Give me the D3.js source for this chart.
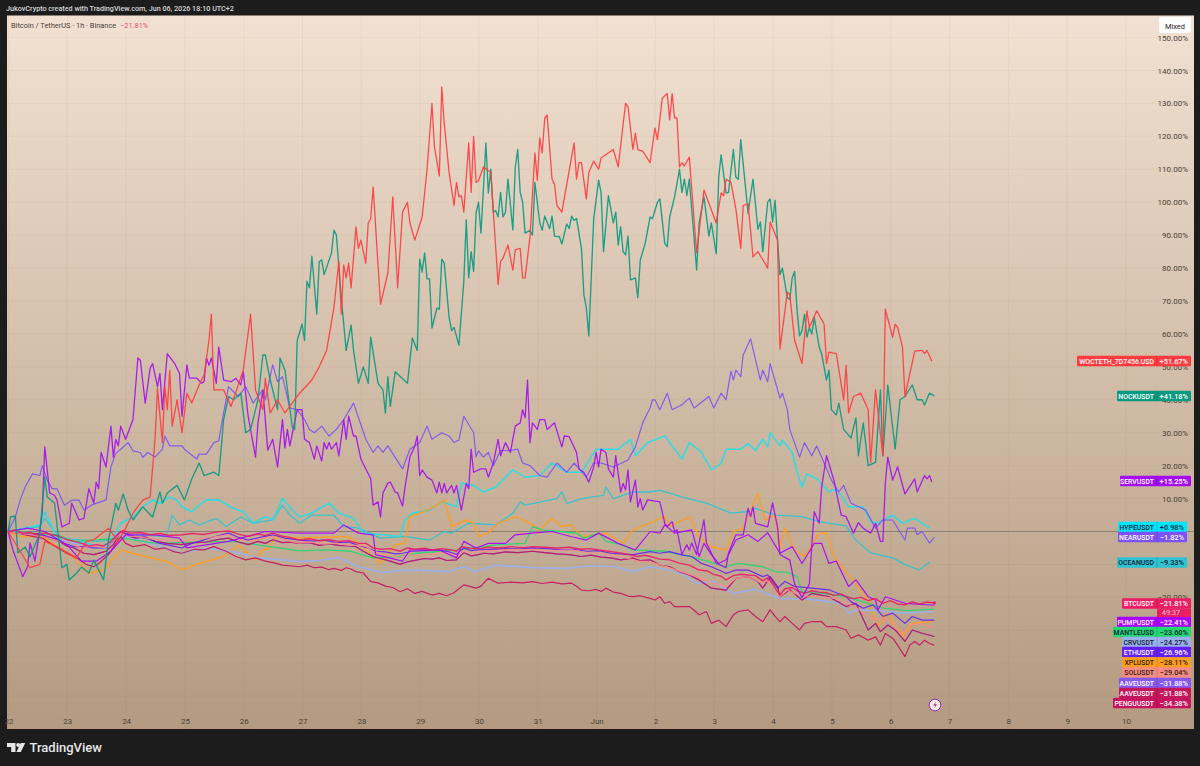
<!DOCTYPE html>
<html><head><meta charset="utf-8">
<script src="https://cdn.jsdelivr.net/npm/d3@7/dist/d3.min.js"></script>
<style>html,body{margin:0;padding:0;background:#1c1c1d;overflow:hidden}svg{display:block}text{font-family:Roboto,"Noto Sans",sans-serif}</style>
</head><body><svg id="c" width="1200" height="766"></svg>
<script>
const yTicks=[150,140,130,120,110,100,90,80,70,60,50,40,30,20,10,-20];
const gridTicks=[150,140,130,120,110,100,90,80,70,60,50,40,30,20,10,0,-10,-20,-30,-40,-50];
const dayLabels=["22","23","24","25","26","27","28","29","30","31","Jun","2","3","4","5","6","7","8","9","10"];
const wocteth=[[0,0],[5,-6],[9,-11],[13,-10],[15,-3],[21,-5],[28,-8],[32,-3],[35,-2.5],[41,1],[45,-3],[48,1],[51,5.6],[55,9.5],[58,10.5],[60,28],[61,43.5],[63,27],[64,44],[65,37],[66,49],[67,32],[69,40],[71,30],[73,42],[75,39],[78,44.5],[80,47.5],[82,58],[83,66],[84,43],[88,43],[91,38],[96,49],[99,66],[101,43],[104,37],[105,46.5],[107,36],[110,40],[113,36],[119,42],[124,46],[127,50],[130,55],[133,68],[135,82],[136,66],[137,81],[138,77],[139,81.5],[140,74],[142,92.5],[143,86],[144,88.5],[146,81.5],[147,93.7],[148,95],[149,104.6],[152,69],[155,78.5],[157,101.6],[159,74],[161,97],[163,100],[164,93.7],[166,88.5],[169,95.5],[171,110],[173,130],[174,117],[176,108],[177,135],[178,124],[180,109],[182,99],[183,106],[184,101.6],[185,102],[186,97],[188,118],[189,103],[190,120],[191,106],[192,106.5],[194,110.7],[197,109],[200,75],[201,82],[202,83],[204,87],[206,79.4],[207,85.5],[209,86],[210,77],[211,77],[213,89.4],[215,115],[216,106.7],[217,119.5],[218,115],[219,125.5],[220,126.5],[222,107],[223,105.5],[224,99],[226,97],[231,118],[232,107],[233,112],[234,112],[236,101],[237,109],[239,112.5],[241,110],[242,113.4],[247,116],[249,110.7],[252,130],[253,129],[255,116],[256,121],[257,116],[259,115.5],[262,112],[264,122.5],[265,119],[267,131.6],[269,133],[270,125],[271,133],[272,125.6],[273,125.6],[274,110.7],[275,112],[276,111],[278,113.7],[281,84.6],[284,103.7],[289,93.7],[291,102.8],[292,102],[293,107],[295,106],[297,98],[299,86],[300,99],[302,99.5],[304,83.4],[306,85],[310,80],[311,94],[314,88.5],[315,55.4],[318,72.7],[319,72],[321,58],[324,51],[326,67],[327,62],[330,67],[333,63],[334,51],[335,54.5],[338,54],[341,40],[342,50.5],[343,36],[345,41],[348,42],[351,37],[352,21],[354,43],[357,23],[358,67.5],[361,59],[362,63],[363,62],[365,56],[366,41],[370,54.8],[373,55],[374,54],[375,55],[377,51.7]];
const nock=[[0,0],[1,4.4],[3,4.7],[4,-6.5],[7,-4.7],[9,-7.7],[13,-0.5],[15,16.5],[16,10.5],[19,8.6],[22,-11],[24,-10],[25,-14.7],[28,-12.6],[30,-10.8],[33,-12.6],[35,-8.7],[39,-14.7],[41,-2.6],[44,8.6],[45,6.5],[47,11.4],[49,6.5],[51,3.5],[55,7.5],[59,4.4],[62,12],[63,8.6],[65,11.7],[69,14],[72,9.6],[75,16],[78,20.8],[80,17],[84,18],[86,17],[87,25.4],[88,34],[90,41],[92,40],[95,42],[97,30],[99,31],[102,40],[104,53.6],[105,53.6],[107,46],[110,37],[111,52.7],[113,49],[116,31.7],[117,31],[118,58],[120,63],[121,58],[122,76],[123,74],[124,83.6],[126,66],[127,82],[128,82.5],[129,78],[132,84.6],[133,91.5],[134,90],[136,71],[138,55],[140,62.7],[141,55],[143,45],[145,50],[147,45],[148,59],[151,45],[153,43],[154,36],[155,47],[156,38],[158,48.5],[163,45],[165,58.8],[167,55],[168,82.7],[169,78.8],[170,84.6],[171,76.7],[172,76.7],[173,61.8],[175,67.8],[176,67.5],[177,82.7],[178,81.5],[180,65],[181,61],[182,62],[184,56.6],[186,76],[187,94.6],[188,77],[189,85],[190,79],[191,96.7],[192,100],[193,90.6],[195,118],[196,102.8],[197,110],[198,97],[199,97.5],[200,95.5],[201,103],[202,95.5],[203,97],[204,107],[206,91.6],[207,110.7],[208,116],[209,103],[210,100],[211,90.6],[213,91.5],[214,90],[215,106],[217,93.7],[218,91.5],[219,95.8],[221,92],[222,95.8],[223,89.7],[225,89.5],[226,87.3],[228,93.4],[229,92],[230,95.8],[231,94.5],[232,95],[234,86],[235,71.8],[236,68],[237,59.4],[239,95],[241,106.7],[242,103],[243,85],[245,102],[247,93.7],[248,97],[249,87],[250,92.5],[251,85],[252,84],[253,89.7],[254,76.4],[256,77],[257,71],[258,82.4],[260,87.5],[262,95.5],[263,95],[265,100],[266,101],[268,87.5],[269,86.5],[270,95.5],[272,101.6],[274,110],[275,103],[276,107],[277,102],[278,107],[281,79.4],[282,93.7],[284,101.6],[286,89.7],[287,93.7],[289,84.3],[290,107.6],[291,114.4],[293,102.8],[294,103],[296,116],[297,107.6],[298,107],[299,119],[302,96.7],[304,107],[306,91.8],[307,94],[308,85],[310,100],[311,101],[312,94],[313,100.6],[314,88.5],[315,78],[316,80],[318,71],[319,70.5],[320,77],[321,79],[322,67],[323,59.4],[324,61],[325,66],[326,59],[327,62],[328,60],[329,65],[331,56],[332,54],[334,46],[335,49],[336,37],[338,35.4],[339,39],[341,31],[344,28.4],[346,34.5],[347,23],[349,33],[351,20],[354,21],[356,43],[357,23],[359,44.5],[362,25],[364,40],[366,41],[369,44.5],[371,40],[373,40],[374,38.4],[376,42],[378,41.2]];
const serv=[[0,0],[2,-5.6],[4,-9.6],[6,-13.7],[8,-10.7],[9,-3.5],[11,-9],[13,0.5],[14,6],[15,25.7],[17,11.7],[19,11],[20,9.5],[22,1.4],[25,2.5],[26,8.6],[29,3.5],[31,4],[33,13],[35,8.6],[36,15],[37,13],[38,24],[40,19.6],[42,32],[43,22.6],[44,28],[45,26],[46,32],[48,28],[51,34],[53,52.7],[54,52],[56,39],[58,49.6],[59,51],[61,44],[62,48],[63,37],[65,54],[68,51],[70,48],[71,35],[73,50.6],[74,46.6],[77,46.6],[79,45],[80,45.5],[81,52.7],[82,50.5],[83,52.7],[85,45],[86,56],[88,46],[91,45.5],[93,46.5],[95,44.5],[96,48.5],[98,35],[101,22.6],[102,33],[104,43],[106,24.7],[108,28],[110,19.6],[112,34],[113,25.4],[114,31],[115,26],[118,37],[120,37],[121,28],[123,27],[125,22],[126,26],[128,21.4],[129,27],[130,25],[131,27],[132,25],[134,27],[135,23],[137,34],[138,28],[139,35],[141,29],[142,29],[144,22],[148,16],[149,8],[151,9],[152,4.4],[153,11.7],[155,14.7],[156,15],[158,12],[159,11.7],[161,7.7],[162,13.5],[164,22.6],[166,26],[167,29],[168,17],[169,18.7],[171,16.5],[173,15.6],[175,11.7],[176,15],[177,11.7],[178,14.6],[179,11.7],[181,14],[182,11.7],[183,14],[185,6.5],[187,14.6],[188,13],[189,25],[190,18],[193,19],[195,19],[196,16.5],[198,20.7],[200,28],[201,23],[203,27],[205,24],[207,32],[209,33],[210,37],[211,34.5],[212,46],[213,27],[214,33],[216,31],[217,34],[219,34],[220,31],[223,33],[226,25.7],[227,29],[229,28.8],[232,24],[233,19],[235,18],[237,15],[239,19.6],[240,24],[241,19.6],[242,25],[244,24],[245,19],[247,16.5],[248,23],[250,12],[251,14.6],[252,12.6],[253,18.7],[254,9],[256,15.6],[257,7.4],[258,10],[259,6.5],[261,9.6],[266,9],[268,2.5],[269,1.5],[271,3],[272,0],[273,0.5],[275,-7],[277,-4],[278,-5.6],[279,-3.5],[281,-7],[284,3.5],[285,-3.5],[289,-9.6],[293,-11],[294,-6.6],[297,-1],[300,-1],[302,7],[303,4.5],[304,7.5],[305,2.5],[310,1.4],[312,8.7],[314,1.4],[315,-7],[319,-8.7],[321,-16],[324,-20],[327,-16],[328,-4],[329,6],[331,2.5],[332,13.5],[334,23],[337,15.6],[340,5],[342,4.5],[345,-0.5],[347,2.7],[349,1],[352,-0.5],[354,2.5],[356,-3],[357,-3],[358,14.7],[359,22.6],[361,15.6],[363,19.6],[366,11.4],[370,16],[371,12],[374,17],[375,16],[376,17],[377,15]];
const near=[[0,0],[3,4.4],[5,9.6],[7,13.5],[10,17.5],[13,17],[14,20],[16,15.6],[18,13],[20,13],[23,8],[26,9.5],[29,9.5],[31,6.5],[34,8],[40,9.6],[42,19.6],[44,23.8],[46,25],[49,27],[51,24.5],[54,24],[55,22.5],[57,24],[60,22.6],[63,25],[64,29],[66,26],[71,26],[72,25],[77,22],[78,23.5],[81,23.5],[84,27],[86,27.5],[88,36],[90,44],[94,41],[97,44],[100,39],[104,43],[105,40],[108,50.6],[110,45.5],[112,47],[115,37.5],[118,37],[121,34],[123,31],[125,30],[128,32],[131,29],[134,31],[137,34],[141,39],[146,28],[149,24],[151,26],[153,24],[155,26],[161,19],[164,25],[168,27],[171,32],[173,28],[177,30],[180,29],[182,27],[184,27.8],[186,35],[190,30],[191,22.6],[192,24.5],[194,22.6],[196,24],[198,20],[201,24.6],[205,24.6],[208,25],[210,20.8],[213,20],[217,17],[220,16.5],[224,20.8],[228,18],[231,20.8],[236,16.5],[239,20.8],[242,20.8],[247,19.6],[253,21.7],[256,25.7],[259,33],[262,37.5],[263,40],[264,40],[266,37],[269,42],[271,37],[275,38.5],[278,40.5],[280,37.5],[286,41],[288,37.5],[291,42],[293,40],[295,48.7],[296,46],[297,49],[299,47],[300,53.6],[303,58.5],[307,46],[308,49],[310,45.5],[311,51],[315,40.5],[316,42],[318,37],[319,31],[323,22.6],[325,27],[328,23],[330,26],[332,22.6],[336,15.6],[339,12],[341,14],[344,8.6],[350,6.5],[354,1],[357,3.5],[361,3.5],[366,-2.6],[367,1],[370,1],[371,-1],[373,0],[376,-3.5],[378,-1.7]];
const hype=[[0,0],[13,2],[15,6],[17,3],[20,-2],[25,-4],[31,-3],[37,-5],[42,-3],[46,2.5],[51,4.4],[55,7.5],[59,9.6],[62,8.5],[66,10.5],[69,9.5],[71,7.5],[75,6],[78,8],[81,9.6],[86,9.6],[92,7],[96,6],[100,2.5],[105,4.5],[108,3.5],[112,10],[116,6.5],[119,4.4],[124,5.6],[131,8.6],[135,5.6],[141,4],[145,-0.5],[153,-1],[160,-1.5],[162,3.5],[165,5.5],[172,6.5],[177,9],[183,7.5],[185,14.7],[190,14],[194,12],[199,13.5],[206,18.7],[211,16.5],[217,17],[222,20.8],[228,18],[234,18],[240,25],[244,25],[249,25],[254,28],[256,23],[261,27],[268,29],[275,22],[278,27],[283,24],[287,18.7],[291,20.7],[293,25],[299,25],[302,26.7],[305,24.6],[308,28],[310,25.7],[311,30],[315,26],[316,27.8],[320,24],[322,18],[324,13.5],[326,17.5],[330,16],[335,12],[338,13],[343,7.5],[349,7.5],[352,3],[355,2.5],[361,5],[365,2.5],[370,4],[372,3],[376,1]];
const ocean=[[0,0],[13,1.5],[15,4],[21,-2],[37,-3],[54,-1],[64,-1.5],[65,-0.5],[67,5],[70,2],[74,3.5],[78,2],[85,4],[89,1.5],[95,4.4],[100,2.5],[108,3.5],[112,8],[115,5],[119,2.5],[124,5],[133,5],[137,1.5],[143,1],[152,-2],[162,-1.5],[172,-2.6],[178,0],[181,-0.5],[188,2.5],[199,2],[206,5.5],[209,9],[211,8],[224,10],[226,12],[228,8.5],[234,10],[243,11],[244,13.5],[247,10],[255,12],[262,12],[266,12.5],[275,10.5],[285,8.6],[295,5.6],[301,6],[305,7],[313,5],[324,4.5],[331,3],[342,1.7],[346,-2.6],[352,-6.5],[361,-8],[366,-10],[372,-11.7],[374,-10.5],[376,-9.3]];
const btc=[[0,0],[3,0.5],[6,-0.5],[9,-0.3],[12,-1],[15,-0.4],[18,-1],[21,-1.5],[24,-2.5],[27,-3],[30,-3.6],[33,-4.4],[36,-4],[39,-4.4],[42,-3],[45,-0.6],[47,0.3],[50,-0.5],[54,-0.3],[58,-1],[62,-0.6],[66,-1.2],[71,-1],[75,-0.6],[80,-0.9],[85,-0.2],[90,0.2],[94,-0.8],[98,-1.5],[102,-0.8],[105,-1.2],[108,-0.5],[112,-1.4],[115,-1.8],[119,-2.6],[123,-2.2],[127,-2.8],[131,-2.5],[135,-3],[139,-2.8],[143,-3.6],[146,-3.6],[149,-5],[152,-5.4],[156,-5.2],[160,-6],[163,-5],[166,-5.4],[170,-5.1],[173,-5.6],[177,-5.2],[181,-5.6],[183,-6],[185,-4.6],[188,-5],[192,-5.2],[196,-4.8],[200,-5],[205,-4.6],[210,-4.9],[214,-4.6],[219,-4.8],[224,-5],[229,-4.8],[234,-5.4],[238,-5.2],[241,-5.6],[245,-6],[249,-6.4],[253,-7],[257,-7.6],[260,-7.2],[262,-7.6],[266,-8.4],[270,-8.6],[274,-9.6],[278,-10.2],[282,-11.7],[285,-11.9],[288,-13],[291,-13.6],[293,-14.7],[296,-13.4],[299,-13],[302,-13.2],[305,-13.4],[308,-15],[310,-14],[312,-16],[315,-19.3],[317,-17.4],[320,-17],[322,-18],[325,-18.8],[328,-18],[331,-18.4],[334,-18.6],[337,-19.4],[340,-19],[342,-19.8],[345,-20.4],[348,-20],[351,-21],[354,-20.4],[357,-21.8],[360,-21],[363,-22],[366,-22.3],[369,-21.4],[372,-22],[375,-21.4],[378,-21.7]];
const pump=[[0,0],[8,1],[15,0],[24,-4],[30,-9],[36,-9],[42,-6],[48,-1],[60,-1],[70,-2],[73,-5],[90,-3],[105,0],[119,-0.5],[126,-0.5],[133,-0.5],[137,2],[143,-0.5],[149,-1],[150,-7],[161,-9],[164,-5.6],[176,-5.6],[183,-8],[186,-3],[191,-5],[196,-3.6],[203,-3.6],[207,-1],[214,-0.5],[222,0],[230,-1.6],[236,-2.6],[241,-0.5],[249,-3.6],[256,-5.6],[262,0],[266,-0.5],[268,2],[272,-0.5],[279,0.5],[282,-7.6],[284,-3.6],[287,-7],[290,-9.7],[293,-8.6],[297,-2.6],[302,-1],[306,-3],[310,-0.4],[315,-6.6],[320,-4.6],[324,-9.7],[329,-3.6],[332,-3.6],[335,-9.7],[338,-9],[343,-16.7],[346,-14.7],[351,-19.8],[354,-20.8],[355,-23.8],[358,-19.8],[366,-21.8],[378,-22.4]];
const mantle=[[0,0],[20,-1],[27,-3],[46,-2],[60,-3.5],[92,-3],[119,-5.9],[130,-5.6],[140,-6],[149,-8],[160,-7.6],[167,-6.6],[183,-5.6],[200,-4],[211,-3.6],[214,1.5],[218,0.5],[225,0],[232,-0.5],[235,-2],[241,-0.5],[244,-3],[250,-4],[255,-5.6],[268,-6],[281,-8.1],[287,-9.4],[293,-10.7],[298,-9.7],[308,-10.7],[313,-12.2],[318,-12.4],[322,-13.7],[324,-18.3],[332,-18.8],[342,-19.8],[350,-21.6],[357,-23.3],[367,-24],[378,-23.6]];
const crv=[[0,0],[10,-0.5],[20,-2.4],[30,-4],[40,-5],[46,-1],[58,-3.6],[71,-6.6],[81,-5],[92,-6.2],[103,-8.1],[112,-8.6],[119,-9.1],[127,-8.8],[135,-8],[143,-10.7],[153,-12.5],[160,-11.8],[166,-11.7],[180,-12.2],[186,-10.7],[191,-12.2],[199,-10.2],[214,-11],[228,-11.2],[238,-10.4],[248,-10.7],[255,-12.2],[262,-10.7],[270,-11.7],[276,-13.2],[281,-15.7],[288,-15.2],[296,-18.8],[305,-17.6],[315,-20.3],[328,-20.6],[340,-21.8],[343,-24.8],[346,-23.8],[355,-24],[365,-24.8],[378,-24.3]];
const eth=[[0,0],[5,-0.4],[10,-1],[15,-1.2],[21,-2.6],[24,-3.8],[27,-4.6],[31,-4.6],[35,-5],[40,-5],[43,-3],[46,0],[49,-0.8],[52,-1.6],[57,-2.2],[62,-3.6],[66,-4.2],[71,-5],[75,-3.6],[78,-3],[84,-1.6],[90,-0.5],[94,-1.8],[98,-2.6],[103,-1.8],[108,-1],[113,-2],[119,-2.6],[124,-2.9],[129,-2.6],[134,-3.4],[139,-3.2],[142,-4],[146,-4.8],[150,-6],[154,-6.2],[158,-6.8],[161,-6.6],[165,-6],[170,-5.8],[176,-5.6],[180,-6.2],[183,-7],[186,-5],[189,-5.8],[191,-5.6],[197,-5.4],[203,-5.2],[209,-5.3],[214,-5],[220,-5.2],[226,-5.6],[231,-5.4],[236,-6],[241,-5.8],[246,-6.6],[250,-6.8],[255,-7],[262,-6.1],[266,-6.6],[270,-6.1],[275,-7.1],[279,-7.6],[283,-9.7],[287,-10.7],[293,-12.7],[297,-11.7],[302,-11.7],[308,-13.7],[310,-13.2],[314,-17.2],[317,-15.2],[321,-16.7],[328,-17.2],[335,-17.7],[342,-19.8],[344,-21.3],[349,-23.3],[353,-22.3],[357,-25.8],[361,-24.8],[366,-27.9],[369,-25.8],[373,-26.9],[378,-26.9]];
const sol=[[0,0],[5,-0.6],[10,-1],[15,-1.6],[21,-3],[25,-3.6],[30,-5],[35,-4.4],[40,-5],[43,-3],[46,-0.5],[49,-1.4],[52,-1.5],[60,-2.4],[71,-3],[80,-2],[90,-1],[94,-2.2],[98,-3],[103,-2.2],[108,-1.5],[113,-2.6],[119,-3.5],[124,-3.2],[129,-3.8],[134,-3.5],[139,-4.2],[143,-4.2],[146,-4.5],[149,-6],[153,-6.8],[157,-7.6],[160,-8],[163,-7],[167,-7.4],[170,-6.8],[173,-7],[177,-6.4],[181,-6.8],[183,-7.6],[185,-6],[189,-6.4],[193,-6],[199,-5.8],[205,-5.4],[214,-5.5],[222,-5.8],[230,-5.6],[236,-6.4],[241,-6.5],[246,-7.2],[251,-7.8],[257,-9],[262,-9.2],[268,-10.5],[274,-12],[280,-13.5],[287,-15.5],[293,-16.7],[297,-14.2],[302,-13.7],[307,-15.5],[310,-15],[313,-17],[315,-19.8],[318,-17.8],[322,-19],[326,-19.6],[332,-19.8],[338,-20.4],[342,-21.8],[346,-23],[351,-25.8],[354,-27],[357,-26],[361,-28],[365,-30.9],[368,-28.4],[372,-28],[375,-28.6],[378,-29]];
const aave=[[0,0],[4,-0.5],[8,-1],[12,-0.6],[16,-1.8],[21,-3],[24,-4.4],[27,-5],[31,-6.6],[35,-7],[38,-6.4],[40,-6],[43,-4],[46,0],[48,-1],[52,-2],[56,-1.6],[60,-3],[65,-3.6],[71,-4],[76,-3.4],[81,-3.2],[86,-2.4],[90,-2],[94,-3.2],[98,-4],[102,-3],[105,-3.6],[108,-2.5],[112,-3.4],[115,-3.2],[119,-3.6],[123,-3.4],[127,-4.2],[131,-3.8],[135,-4.2],[139,-4.4],[142,-4.6],[145,-6],[149,-7.6],[152,-8.2],[156,-9],[160,-10],[163,-9.2],[167,-8.6],[170,-8.2],[173,-8.4],[176,-8],[179,-8.8],[183,-8.6],[186,-6.4],[189,-7.4],[192,-7],[194,-6.6],[198,-6.8],[203,-6.2],[208,-6.4],[214,-6],[219,-6.4],[224,-6.8],[229,-7],[234,-7.6],[238,-7.2],[242,-7.8],[246,-8],[250,-8.6],[255,-8.1],[258,-8.8],[262,-8.6],[266,-10.2],[270,-10.7],[274,-12.2],[278,-13.2],[282,-14.7],[287,-17.2],[293,-17.8],[297,-14.2],[302,-13.7],[306,-15.2],[308,-17.2],[311,-13.7],[314,-16.7],[315,-19.8],[319,-17.7],[324,-20.8],[328,-18.8],[335,-19.8],[342,-22.8],[346,-21.8],[351,-29.9],[354,-27.9],[356,-30.4],[359,-28.4],[362,-29.9],[366,-33.4],[369,-29.9],[373,-30.9],[378,-31.9]];
const pengu=[[0,0],[5,-0.6],[10,-1.5],[14,-2],[19,-4.4],[24,-6.6],[28,-8],[32,-10],[35,-10.7],[37,-9.7],[41,-7],[46,-1.5],[48,-3.6],[51,-4.6],[56,-4],[60,-5.4],[64,-5],[68,-6.2],[71,-6.6],[76,-5.4],[80,-5.6],[84,-4.6],[89,-6],[93,-7.6],[97,-8.6],[101,-8],[105,-9],[109,-9.6],[112,-10.2],[119,-10.7],[122,-10.2],[125,-11],[128,-10.8],[131,-11.6],[133,-11.2],[136,-11.8],[138,-11],[140,-11.4],[142,-12.2],[145,-12.6],[148,-15.2],[151,-15.6],[154,-16.6],[157,-17],[160,-18.3],[163,-17.4],[166,-18.8],[169,-18.2],[173,-19.3],[176,-18.8],[179,-19.5],[182,-18.6],[184,-17.4],[186,-16.2],[188,-16.6],[191,-17.2],[193,-16.6],[196,-14.2],[198,-15],[200,-15.7],[205,-15.4],[210,-15.6],[214,-15.2],[218,-15.8],[222,-15.4],[226,-15.9],[230,-15.7],[232,-16.6],[234,-17.8],[237,-18],[240,-17.6],[242,-18.2],[244,-17.2],[247,-18.4],[250,-18.8],[253,-19.6],[255,-19.8],[258,-19.5],[262,-20.3],[264,-20.8],[266,-19.8],[268,-21.8],[270,-21.3],[272,-22.8],[275,-22.8],[278,-22.8],[279,-23.3],[282,-25.3],[285,-24.3],[287,-27.9],[290,-26.9],[293,-28.9],[296,-25.3],[298,-24.3],[302,-23.8],[305,-25.8],[308,-27.4],[311,-23.8],[313,-25.8],[315,-27.4],[317,-25.8],[320,-27.9],[323,-29.9],[325,-27.9],[328,-27.4],[332,-27.4],[334,-28.9],[338,-28.9],[342,-29.9],[344,-32.4],[347,-31.4],[351,-33],[354,-32],[356,-34.5],[358,-31],[361,-32.4],[363,-34.5],[366,-38],[368,-34.5],[370,-33.4],[372,-34.5],[374,-33],[376,-34],[378,-34.5]];
const xpl=[[0,0],[5,-1.5],[14,-1.5],[22,-5.6],[27,-8],[33,-12.7],[39,-11.7],[46,-5.6],[51,-6.6],[58,-8],[65,-9.1],[71,-11.7],[78,-9.7],[88,-7.6],[94,-4.1],[101,-8.6],[104,-5.6],[107,-5],[109,-1.5],[119,-2],[134,-1.6],[139,-1.6],[143,-3.6],[152,-9.7],[158,-4],[162,-3.6],[164,4.5],[171,6.5],[174,7.5],[178,9.6],[181,1.5],[187,3.5],[190,2.5],[192,-1.6],[196,-0.5],[200,2.5],[207,4.5],[213,2.5],[217,0.5],[222,4],[226,1.5],[230,2],[234,-1.6],[244,-0.5],[251,-3.6],[255,0.5],[260,2],[268,4.5],[270,1.5],[278,4.5],[282,-1.6],[287,-4.6],[293,-5.6],[296,0],[300,1],[306,11.6],[309,3.5],[313,5],[315,-5.1],[317,1],[321,-5.6],[325,-7.6],[331,-0.5],[334,-0.5],[337,-7.6],[346,-16.2],[351,-20.8],[355,-28.9],[359,-24.8],[365,-32],[369,-27.9],[377,-27.4]];

const tags=[
 {name:"WOCTETH_7D7456.USD",value:"+51.67%",color:"#ff3b3f",text:"#fff",data:wocteth,left:1077,right:1191,lw:1.3,cy:361},
 {name:"NOCKUSDT",value:"+41.18%",color:"#089981",text:"#fff",data:nock,left:1117,right:1191,lw:1.35,cy:396},
 {name:"SERVUSDT",value:"+15.25%",color:"#a40df0",text:"#fff",data:serv,left:1120,right:1191,lw:1.3,cy:481},
 {name:"HYPEUSDT",value:"+0.98%",color:"#22dfe8",text:"#123",data:hype,left:1118,right:1187,lw:1.6,cy:527,box:"#00e5ff"},
 {name:"NEARUSDT",value:"−1.82%",color:"#7c52f5",text:"#fff",data:near,left:1118,right:1187,lw:1.2,cy:537},
 {name:"OCEANUSD",value:"−9.33%",color:"#2fc4d2",text:"#123",data:ocean,left:1117,right:1187,lw:1.3,cy:562.5},
 {name:"BTCUSDT",value:"−21.81%",color:"#e91e63",text:"#fff",data:btc,left:1122,right:1191,lw:1.4,cy:603.5},
 {name:"PUMPUSDT",value:"−22.41%",color:"#aa00ff",text:"#fff",data:pump,left:1117,right:1191,lw:1.2,cy:622},
 {name:"MANTLEUSD",value:"−23.60%",color:"#22d870",text:"#123",data:mantle,left:1113,right:1191,lw:1.3,cy:632},
 {name:"CRVUSDT",value:"−24.27%",color:"#98b0ec",text:"#123",data:crv,left:1122,right:1191,lw:1.7,cy:642},
 {name:"ETHUSDT",value:"−26.96%",color:"#6420ee",text:"#fff",data:eth,left:1122,right:1191,lw:1.2,cy:652},
 {name:"XPLUSDT",value:"−28.11%",color:"#ff9d1e",text:"#321",data:xpl,left:1122,right:1191,lw:1.5,cy:662.5},
 {name:"SOLUSDT",value:"−29.04%",color:"#f78c86",text:"#321",data:sol,left:1122,right:1191,lw:1.3,cy:672.5},
 {name:"AAVEUSDT",value:"−31.88%",color:"#8458f0",text:"#fff",data:aave,left:1119,right:1191,lw:1.2,cy:683},
 {name:"AAVEUSDT",value:"−31.88%",color:"#c2185b",text:"#fff",data:aave,left:1119,right:1191,lw:1.2,cy:693},
 {name:"PENGUUSDT",value:"−34.38%",color:"#c5135f",text:"#fff",data:pengu,left:1113,right:1191,lw:1.2,cy:703}
];
const drawOrder=[5,3,4,11,9,8,13,14,15,10,12,7,6,2,1,0];

const svg=d3.select("#c");
const plot={l:7,r:1194,t:15.5,b:729};
const x=d3.scaleLinear().domain([0,456]).range([8,1125.5]);
const y=d3.scaleLinear().domain([0,140]).range([531.5,70.5]);
const defs=svg.append("defs");
const g=defs.append("linearGradient").attr("id","bg").attr("x1",0).attr("x2",0).attr("y1",0).attr("y2",1);
g.append("stop").attr("offset","0%").attr("stop-color","#f2e1d2");
g.append("stop").attr("offset","100%").attr("stop-color","#b39a80");
defs.append("clipPath").attr("id","pc").append("rect").attr("x",plot.l).attr("y",plot.t).attr("width",plot.r-plot.l).attr("height",plot.b-plot.t);
svg.append("rect").attr("width",1200).attr("height",766).attr("fill","#1c1c1d");
svg.append("rect").attr("x",plot.l).attr("y",plot.t).attr("width",plot.r-plot.l).attr("height",plot.b-plot.t).attr("fill","url(#bg)");

const grid=svg.append("g").attr("clip-path","url(#pc)");
grid.selectAll("line.v").data(dayLabels).join("line").attr("x1",(d,i)=>x(i*24)+.5).attr("x2",(d,i)=>x(i*24)+.5).attr("y1",plot.t).attr("y2",plot.b).attr("stroke","rgba(90,60,30,.045)");
grid.selectAll("line.h").data(gridTicks).join("line").attr("x1",plot.l).attr("x2",plot.r).attr("y1",d=>y(d)).attr("y2",d=>y(d)).attr("stroke","rgba(90,60,30,.035)");

svg.append("g").selectAll("text").data(yTicks).join("text").attr("x",1188).attr("y",d=>y(d)+3).attr("text-anchor","end")
 .attr("font-size",8).attr("fill","#4d4238").text(d=>(d<0?"−":"")+Math.abs(d).toFixed(2)+"%");
svg.append("g").selectAll("text").data(dayLabels).join("text").attr("x",(d,i)=>x(i*24)+1).attr("y",724).attr("text-anchor","middle")
 .attr("font-size",8).attr("fill","#4d4238").text(d=>d);

svg.append("line").attr("x1",plot.l).attr("x2",plot.r).attr("y1",y(0)).attr("y2",y(0)).attr("stroke","#6f6a66").attr("stroke-width",.8).attr("opacity",.8);

const line=d3.line().x(d=>x(d[0])).y(d=>y(d[1]));
const sg=svg.append("g").attr("clip-path","url(#pc)").attr("fill","none").attr("stroke-linejoin","round");
drawOrder.forEach(i=>{const s=tags[i];
 sg.append("path").attr("d",line(s.data)).attr("stroke",s.color).attr("stroke-width",s.lw).attr("opacity",.9);});
sg.append("circle").attr("cx",x(378)).attr("cy",y(-21.7)).attr("r",1.6).attr("fill","#e91e63").attr("stroke","none");

const tg=svg.append("g");
tags.forEach(t=>{
 const gg=tg.append("g").attr("transform",`translate(0,${t.cy})`);
 const h=10.4, bx=t.box||t.color, mid=1157;
 gg.append("rect").attr("x",t.left).attr("y",-h/2).attr("width",t.right-t.left).attr("height",h).attr("rx",1.2).attr("fill",bx);
 gg.append("line").attr("x1",mid).attr("x2",mid).attr("y1",-h/2).attr("y2",h/2).attr("stroke","rgba(0,0,0,.14)");
 gg.append("text").attr("x",mid-3).attr("y",2.7).attr("text-anchor","end").attr("font-size",6.9).attr("font-weight",500).attr("fill",t.text).text(t.name);
 gg.append("text").attr("x",t.right-3).attr("y",2.7).attr("text-anchor","end").attr("font-size",7.4).attr("font-weight",500).attr("fill",t.text).text(t.value);
});
tg.append("rect").attr("x",1157).attr("y",608.5).attr("width",34).attr("height",8.5).attr("fill","#e91e63");
tg.append("text").attr("x",1171).attr("y",615).attr("text-anchor","middle").attr("font-size",7.4).attr("fill","#f7c1d4").text("49:37");

svg.append("rect").attr("x",1159).attr("y",17).attr("width",32).attr("height",16).attr("rx",2).attr("fill","#fff");
svg.append("text").attr("x",1175).attr("y",28.5).attr("text-anchor","middle").attr("font-size",7.4).attr("fill","#222").text("Mixed");

svg.append("text").attr("x",6).attr("y",11).attr("font-size",7.2).attr("font-weight",500).attr("fill","#d8d8d8").text("JukovCrypto created with TradingView.com, Jun 06, 2026 18:10 UTC+2");
const leg=svg.append("text").attr("x",11).attr("y",28).attr("font-size",7.4).attr("fill","#4a4038");
leg.append("tspan").text("Bitcoin / TetherUS · 1h · Binance ");
leg.append("tspan").attr("dx",2).attr("fill","#ee4a78").text("−21.81%");

svg.append("circle").attr("cx",935).attr("cy",705).attr("r",5.8).attr("fill","#f4ece6").attr("stroke","#9c27d0").attr("stroke-width",1);
svg.append("path").attr("d","M936 701.5 L933.4 705.6 H935.2 L934.2 708.5 L936.9 704.3 H935.1 Z").attr("fill","#c2188c");

const lg=svg.append("g").attr("fill","#e6e6e6");
lg.append("path").attr("d","M7 743 H15.5 V752 H11.2 V747 H7 Z");
lg.append("circle").attr("cx",18.2).attr("cy",745).attr("r",2);
lg.append("path").attr("d","M20.8 743 H25.2 L20.8 752 H16.4 Z");
svg.append("text").attr("x",29.5).attr("y",752).attr("font-size",13).attr("font-weight",500).attr("fill","#e6e6e6").attr("font-family","Inter,Roboto,sans-serif").text("TradingView");
</script></body></html>
